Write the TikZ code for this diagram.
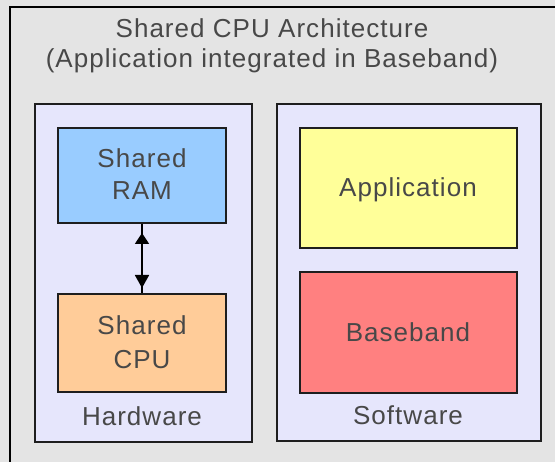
\documentclass[tikz,border=0pt]{standalone}
\usepackage{fontspec}
\setmainfont{Liberation Sans}[LetterSpace=4]
\usetikzlibrary{arrows.meta}

\definecolor{bgcol}{HTML}{E4E4E4}
\definecolor{groupcol}{HTML}{E6E6FC}
\definecolor{ramcol}{HTML}{99CCFF}
\definecolor{cpucol}{HTML}{FFCC99}
\definecolor{appcol}{HTML}{FFFF99}
\definecolor{bbcol}{HTML}{FF8080}
\definecolor{txtcol}{HTML}{484848}
\definecolor{edgecol}{HTML}{1E1E1E}

\tikzset{
  label text/.style={text=txtcol, font=\fontsize{26}{30}\selectfont, anchor=base, inner sep=0pt, align=center},
  groupbox/.style={draw=edgecol, fill=groupcol, line width=2pt},
  unitbox/.style={draw=edgecol, line width=2pt},
}

\begin{document}
\begin{tikzpicture}[x=1pt, y=-1pt]
  \useasboundingbox (0,0) rectangle (555,462);
  % page background and outer frame (runs off the right and bottom edges)
  \fill[bgcol] (0,0) rectangle (555,462);
  \draw[black, line width=2.4pt] (10,470) -- (10,7) -- (565,7);

  % title
  \node[label text] (title1) at (272,38) {Shared CPU Architecture};
  \node[label text] (title2) at (272,68) {(Application integrated in Baseband)};

  % hardware group
  \draw[groupbox] (35,104) rectangle (252,442);
  \node[unitbox, fill=ramcol, minimum width=168pt, minimum height=95pt, inner sep=0pt] (ram) at (142,175.5) {};
  \node[unitbox, fill=cpucol, minimum width=168pt, minimum height=98pt, inner sep=0pt] (cpu) at (142,343) {};
  \node[label text] (ramtxt1) at (142,168) {Shared};
  \node[label text] (ramtxt2) at (142,200) {RAM};
  \node[label text] (cputxt1) at (142,335) {Shared};
  \node[label text] (cputxt2) at (142,369) {CPU};
  \node[label text] (hw) at (142,426) {Hardware};

  % link between RAM and CPU
  \draw[black, line width=1.8pt] (ram.south) -- (cpu.north);
  \draw[black, line width=1.8pt, {Triangle[length=11pt,width=14pt]}-{Triangle[length=13pt,width=14pt]},
        shorten <=9pt, shorten >=5pt] (ram.south) -- (cpu.north);

  % software group
  \draw[groupbox] (277,104) rectangle (541,441);
  \node[unitbox, fill=appcol, minimum width=217pt, minimum height=120pt, inner sep=0pt] (app) at (408.5,188) {};
  \node[unitbox, fill=bbcol, minimum width=217pt, minimum height=121pt, inner sep=0pt] (bb) at (408.5,332.5) {};
  \node[label text] (apptxt) at (408,197) {Application};
  \node[label text] (bbtxt) at (408,342) {Baseband};
  \node[label text] (sw) at (408,425) {Software};
\end{tikzpicture}
\end{document}
